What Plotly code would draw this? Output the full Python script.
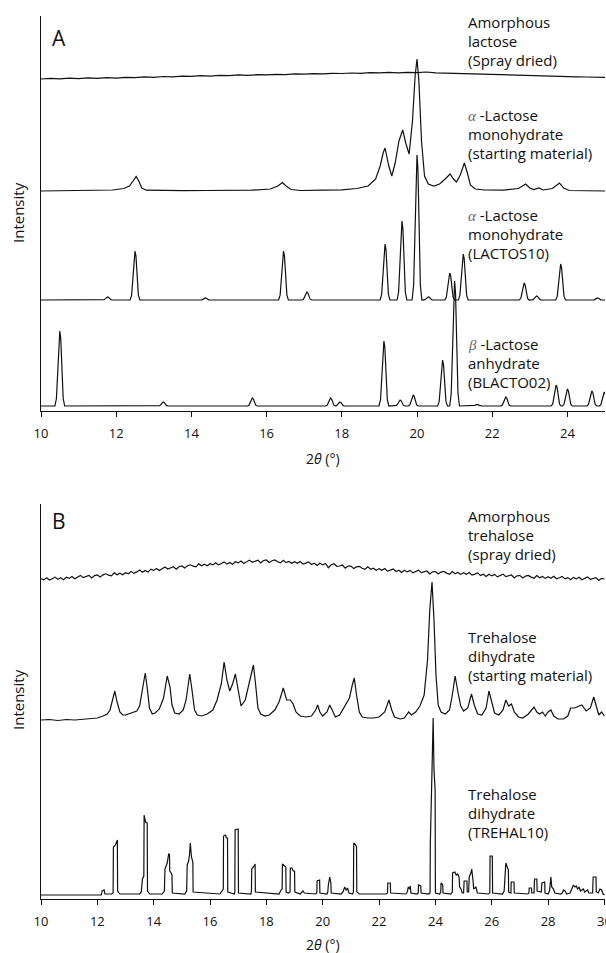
import plotly.graph_objects as go

W, H = 606, 953
FONT = "Open Sans"
INK = "#111111"

# ---------------- Panel A : lactose (2θ in degrees, intensity a.u.) ----------------
A_AMORPH_X = [10.0, 10.25, 10.5, 10.75, 11.0, 11.25, 11.5, 11.75, 12.0, 12.25, 12.5, 12.75,
              13.0, 13.25, 13.5, 13.75, 14.0, 14.25, 14.5, 14.75, 15.0, 15.25, 15.5, 15.75,
              16.0, 16.25, 16.5, 16.75, 17.0, 17.25, 17.5, 17.75, 18.0, 18.25, 18.5, 18.75,
              19.0, 19.25, 19.5, 19.75, 20.0, 20.25, 20.5, 20.75, 21.0, 21.25, 21.5, 21.75,
              22.0, 22.25, 22.5, 22.75, 23.0, 23.25, 23.5, 23.75, 24.0, 24.25, 24.5, 24.75, 25.0]
A_AMORPH_Y = [0.0, 0.6, 0.1, 0.9, 0.4, 1.1, 0.7, 1.3, 0.9, 1.6, 1.3, 2.1, 1.7, 2.5, 2.1, 2.9,
              2.6, 3.3, 2.9, 3.6, 3.4, 4.1, 3.7, 4.3, 4.1, 4.7, 4.4, 5.1, 4.8, 5.4, 5.1, 5.7,
              5.5, 6.0, 5.7, 6.3, 6.1, 6.6, 6.2, 6.7, 6.4, 7.0, 6.1, 5.8, 5.5, 5.2, 4.8, 4.5,
              4.2, 3.9, 3.6, 3.4, 3.1, 2.9, 2.7, 2.6, 2.3, 2.2, 2.0, 1.9, 1.7]

A_START_PTS = [(10.0, 0), (10.5, 0.3), (11.0, 0.2), (11.5, 0.5), (11.9, 1), (12.2, 2.5), (12.35, 5),
               (12.45, 10), (12.53, 14.5), (12.6, 10), (12.68, 3), (12.8, 0.8), (13.2, 0.5),
               (13.8, 0.3), (14.4, 0.5), (15.0, 0.4), (15.6, 0.8), (16.1, 2), (16.3, 5),
               (16.42, 8.5), (16.52, 5), (16.65, 1.5), (16.9, 0.5), (17.5, 0.8), (18.0, 1.2),
               (18.4, 2.5), (18.7, 5), (18.9, 12), (19.02, 25), (19.1, 38), (19.15, 43),
               (19.25, 25), (19.33, 15), (19.42, 28), (19.52, 50), (19.62, 61), (19.7, 48),
               (19.79, 37), (19.88, 70), (19.95, 115), (20.0, 132), (20.05, 110), (20.12, 50),
               (20.2, 15), (20.3, 7), (20.45, 5), (20.6, 7), (20.75, 12), (20.88, 17),
               (20.97, 12), (21.05, 9), (21.15, 16), (21.26, 28), (21.34, 18), (21.42, 6),
               (21.55, 2), (21.8, 1), (22.3, 0.8), (22.7, 2.5), (22.89, 7), (23.0, 3),
               (23.1, 1.5), (23.25, 3), (23.35, 1), (23.6, 2.5), (23.79, 8), (23.9, 3),
               (24.05, 0.5), (24.5, 0.3), (25.0, 0)]

A_LACTOS10_POS = [11.77, 12.5, 14.37, 16.45, 17.07, 19.15, 19.6, 20.0, 20.3, 20.87, 21.23,
                  22.85, 23.18, 23.82, 24.8]
A_LACTOS10_INT = [3, 49, 2, 49, 8, 56, 79, 145, 3, 27, 46, 17, 4, 36, 2]

A_BLACTO02_POS = [10.5, 13.25, 15.62, 17.7, 17.95, 19.12, 19.55, 19.9, 20.68, 21.0, 21.6,
                  22.36, 23.7, 24.0, 24.65, 24.98]
A_BLACTO02_INT = [75, 4, 8, 8, 4, 65, 6, 11, 46, 125, 1.5, 9, 21, 17, 15, 14]

# ---------------- Panel B : trehalose ----------------
B_AMORPH_X = [10.0, 10.1, 10.2, 10.3, 10.4, 10.5, 10.6, 10.7, 10.8, 10.9,
              11.0, 11.1, 11.2, 11.3, 11.4, 11.5, 11.6, 11.7, 11.8, 11.9,
              12.0, 12.1, 12.2, 12.3, 12.4, 12.5, 12.6, 12.7, 12.8, 12.9,
              13.0, 13.1, 13.2, 13.3, 13.4, 13.5, 13.6, 13.7, 13.8, 13.9,
              14.0, 14.1, 14.2, 14.3, 14.4, 14.5, 14.6, 14.7, 14.8, 14.9,
              15.0, 15.1, 15.2, 15.3, 15.4, 15.5, 15.6, 15.7, 15.8, 15.9,
              16.0, 16.1, 16.2, 16.3, 16.4, 16.5, 16.6, 16.7, 16.8, 16.9,
              17.0, 17.1, 17.2, 17.3, 17.4, 17.5, 17.6, 17.7, 17.8, 17.9,
              18.0, 18.1, 18.2, 18.3, 18.4, 18.5, 18.6, 18.7, 18.8, 18.9,
              19.0, 19.1, 19.2, 19.3, 19.4, 19.5, 19.6, 19.7, 19.8, 19.9,
              20.0, 20.1, 20.2, 20.3, 20.4, 20.5, 20.6, 20.7, 20.8, 20.9,
              21.0, 21.1, 21.2, 21.3, 21.4, 21.5, 21.6, 21.7, 21.8, 21.9,
              22.0, 22.1, 22.2, 22.3, 22.4, 22.5, 22.6, 22.7, 22.8, 22.9,
              23.0, 23.1, 23.2, 23.3, 23.4, 23.5, 23.6, 23.7, 23.8, 23.9,
              24.0, 24.1, 24.2, 24.3, 24.4, 24.5, 24.6, 24.7, 24.8, 24.9,
              25.0, 25.1, 25.2, 25.3, 25.4, 25.5, 25.6, 25.7, 25.8, 25.9,
              26.0, 26.1, 26.2, 26.3, 26.4, 26.5, 26.6, 26.7, 26.8, 26.9,
              27.0, 27.1, 27.2, 27.3, 27.4, 27.5, 27.6, 27.7, 27.8, 27.9,
              28.0, 28.1, 28.2, 28.3, 28.4, 28.5, 28.6, 28.7, 28.8, 28.9,
              29.0, 29.1, 29.2, 29.3, 29.4, 29.5, 29.6, 29.7, 29.8, 29.9, 30.0]
B_AMORPH_Y = [1.3, 0.1, 2.2, 0.0, 1.3, 2.9, 0.6, 2.2, 0.3, 2.9,
              1.6, 3.4, 1.2, 3.0, 4.6, 2.4, 3.2, 4.6, 2.0, 4.4,
              5.0, 2.9, 5.1, 6.2, 4.8, 4.1, 7.1, 5.2, 6.8, 5.3,
              7.3, 6.3, 8.6, 6.6, 8.1, 9.9, 7.8, 9.6, 7.9, 10.7,
              9.6, 11.5, 9.4, 11.3, 13.0, 10.9, 11.8, 13.3, 10.8, 13.3,
              14.0, 11.9, 14.1, 15.2, 13.8, 13.1, 16.1, 14.2, 15.8, 14.3,
              16.3, 15.1, 17.3, 15.1, 16.5, 18.1, 15.9, 17.5, 15.7, 18.3,
              17.1, 18.9, 16.6, 18.4, 19.9, 17.7, 18.4, 19.8, 17.1, 19.5,
              20.0, 17.5, 19.3, 20.0, 18.2, 17.1, 19.7, 17.4, 18.6, 16.7,
              18.3, 16.7, 18.5, 15.9, 16.9, 18.1, 15.5, 16.7, 14.5, 16.7,
              15.1, 16.5, 12.3, 15.2, 16.3, 13.7, 14.0, 15.0, 11.9, 13.9,
              14.0, 11.4, 13.1, 13.7, 11.8, 10.6, 13.1, 10.7, 11.8, 9.8,
              11.3, 9.7, 11.5, 8.9, 9.9, 11.1, 8.5, 9.7, 7.5, 9.7,
              8.1, 9.6, 7.1, 8.6, 9.9, 7.4, 7.9, 9.0, 6.1, 8.2,
              8.5, 6.0, 7.9, 8.6, 6.9, 5.8, 8.5, 6.2, 7.5, 5.6,
              7.3, 5.7, 7.5, 4.9, 5.9, 7.1, 4.5, 5.7, 3.5, 5.7,
              4.1, 5.6, 3.1, 4.6, 5.9, 3.4, 3.9, 5.0, 2.1, 4.2,
              4.5, 2.0, 3.9, 4.6, 2.9, 1.8, 4.5, 2.2, 3.5, 1.6,
              3.3, 1.8, 3.7, 1.2, 2.3, 3.6, 1.1, 2.4, 0.3, 2.6,
              1.1, 2.7, 0.2, 1.8, 3.1, 0.7, 1.2, 2.4, -0.5, 1.7, 1.0]

B_START_PTS = [(10.0, 0), (10.3, 0.5), (10.6, -0.5), (10.9, 0.5), (11.2, 0), (11.5, 1), (11.8, 1.5),
               (12.0, 2), (12.2, 4), (12.35, 6), (12.45, 10), (12.55, 20), (12.62, 29), (12.7, 18),
               (12.8, 8), (12.9, 5), (13.0, 5), (13.2, 7), (13.4, 9), (13.5, 14), (13.6, 30),
               (13.7, 47), (13.78, 30), (13.85, 12), (13.95, 6), (14.05, 7), (14.2, 11),
               (14.35, 22), (14.48, 44), (14.58, 33), (14.65, 15), (14.75, 7), (14.9, 6),
               (15.05, 10), (15.15, 20), (15.28, 46), (15.36, 30), (15.45, 10), (15.55, 5),
               (15.7, 4), (15.9, 6), (16.1, 10), (16.25, 20), (16.4, 36), (16.5, 58), (16.6, 40),
               (16.7, 29), (16.8, 36), (16.9, 46), (17.0, 30), (17.1, 14), (17.25, 20),
               (17.4, 38), (17.54, 55), (17.62, 35), (17.7, 12), (17.8, 6), (17.95, 4),
               (18.1, 5), (18.3, 10), (18.45, 18), (18.6, 32), (18.72, 20), (18.85, 20),
               (18.95, 16), (19.05, 8), (19.2, 4), (19.4, 3), (19.6, 4), (19.75, 10),
               (19.82, 15), (19.9, 8), (20.0, 4), (20.15, 8), (20.25, 15), (20.35, 8),
               (20.45, 3), (20.6, 5), (20.75, 12), (20.85, 16), (20.95, 22), (21.05, 35),
               (21.12, 42), (21.2, 25), (21.3, 8), (21.4, 3), (21.6, 2), (21.8, 2), (22.0, 3),
               (22.2, 8), (22.35, 20), (22.45, 10), (22.55, 3), (22.75, 1), (22.9, 2),
               (23.05, 8), (23.15, 5), (23.3, 8), (23.45, 14), (23.6, 25), (23.72, 60),
               (23.8, 110), (23.88, 138), (23.95, 100), (24.02, 45), (24.1, 15), (24.2, 8),
               (24.35, 6), (24.5, 10), (24.6, 25), (24.7, 44), (24.8, 28), (24.9, 14),
               (25.0, 9), (25.15, 12), (25.28, 26), (25.38, 15), (25.5, 6), (25.65, 5),
               (25.8, 12), (25.9, 29), (26.0, 18), (26.1, 7), (26.25, 5), (26.4, 10),
               (26.5, 20), (26.6, 14), (26.7, 16), (26.8, 8), (26.95, 3), (27.1, 2),
               (27.3, 6), (27.5, 13), (27.6, 8), (27.7, 6), (27.8, 8), (27.9, 4), (28.0, 8),
               (28.1, 10), (28.2, 4), (28.35, 1), (28.55, 1), (28.7, 4), (28.8, 12),
               (28.95, 12), (29.1, 14), (29.2, 15), (29.35, 9), (29.5, 12), (29.62, 23),
               (29.72, 12), (29.8, 5), (29.9, 8), (30.0, 4)]

B_TREHAL10_PTS = [(10.0, 0), (12.14, 0), (12.17, 4), (12.24, 5), (12.27, 1), (12.5, 1), (12.56, 2),
                  (12.57, 48), (12.64, 50), (12.69, 55), (12.71, 55), (12.72, 4), (12.8, 1),
                  (13.5, 1), (13.56, 3), (13.6, 16), (13.65, 19), (13.66, 80), (13.71, 73),
                  (13.77, 72), (13.78, 4), (13.86, 1), (14.3, 1), (14.38, 4), (14.4, 26),
                  (14.48, 32), (14.53, 41), (14.56, 41), (14.57, 24), (14.62, 22), (14.65, 20),
                  (14.66, 2), (15.1, 1), (15.17, 4), (15.19, 30), (15.24, 34), (15.27, 40),
                  (15.3, 52), (15.34, 38), (15.39, 33), (15.4, 3), (16.35, 1), (16.42, 4),
                  (16.47, 6), (16.48, 59), (16.55, 60), (16.58, 57), (16.62, 57), (16.63, 3),
                  (16.86, 1), (16.88, 3), (16.89, 65), (16.98, 66), (17.0, 66), (17.01, 2),
                  (17.45, 1), (17.47, 4), (17.48, 26), (17.54, 28), (17.58, 31), (17.6, 31),
                  (17.61, 3), (18.45, 1), (18.52, 5), (18.56, 6), (18.57, 31), (18.63, 29),
                  (18.69, 28), (18.7, 3), (18.78, 2), (18.84, 3), (18.85, 27), (18.91, 27),
                  (18.95, 24), (19.0, 24), (19.01, 3), (19.2, 1), (19.25, 3), (19.3, 4),
                  (19.35, 2), (19.75, 1), (19.79, 2), (19.8, 14), (19.89, 15), (19.9, 2),
                  (20.15, 1), (20.18, 3), (20.2, 10), (20.25, 18), (20.29, 12), (20.3, 2),
                  (20.65, 1), (20.72, 3), (20.78, 8), (20.83, 5), (20.88, 7), (20.93, 2),
                  (21.06, 1), (21.09, 3), (21.1, 52), (21.17, 50), (21.2, 48), (21.21, 3),
                  (21.3, 1), (22.25, 1), (22.3, 2), (22.31, 12), (22.4, 12), (22.41, 2),
                  (22.95, 1), (23.0, 3), (23.04, 8), (23.08, 6), (23.11, 9), (23.13, 2),
                  (23.35, 1), (23.39, 2), (23.4, 10), (23.48, 9), (23.49, 2), (23.76, 1),
                  (23.81, 2), (23.82, 52), (23.88, 125), (23.92, 177), (23.95, 125),
                  (23.99, 105), (24.0, 2), (24.15, 1), (24.19, 3), (24.2, 12), (24.26, 10),
                  (24.27, 2), (24.55, 1), (24.6, 3), (24.61, 22), (24.69, 23), (24.74, 20),
                  (24.79, 21), (24.84, 18), (24.86, 8), (24.91, 6), (24.95, 2), (25.0, 2),
                  (25.02, 14), (25.12, 14), (25.13, 3), (25.18, 3), (25.2, 18), (25.26, 22),
                  (25.29, 26), (25.33, 16), (25.36, 6), (25.44, 8), (25.49, 2), (25.88, 1),
                  (25.93, 2), (25.94, 39), (26.02, 39), (26.03, 2), (26.38, 1), (26.44, 4),
                  (26.48, 20), (26.5, 32), (26.55, 28), (26.59, 25), (26.6, 3), (26.68, 2),
                  (26.69, 13), (26.79, 13), (26.8, 2), (27.28, 1), (27.32, 2), (27.33, 7),
                  (27.41, 7), (27.42, 2), (27.5, 2), (27.52, 16), (27.6, 16), (27.61, 4),
                  (27.76, 3), (27.78, 12), (27.88, 13), (27.89, 2), (28.0, 1), (28.05, 4),
                  (28.1, 18), (28.13, 8), (28.19, 6), (28.24, 2), (28.45, 1), (28.5, 2),
                  (28.55, 5), (28.6, 4), (28.66, 1), (28.78, 2), (28.84, 6), (28.9, 10),
                  (28.95, 8), (29.0, 9), (29.05, 6), (29.1, 8), (29.15, 4), (29.25, 6),
                  (29.3, 3), (29.4, 5), (29.45, 2), (29.58, 2), (29.6, 18), (29.7, 18),
                  (29.71, 3), (29.78, 2), (29.84, 6), (29.9, 5), (29.95, 1), (30.0, 0)]

A_TICKS = [10, 12, 14, 16, 18, 20, 22, 24]
B_TICKS = [10, 12, 14, 16, 18, 20, 22, 24, 26, 28, 30]

# ---------------- styling / stacking ----------------
# peak profile used to draw each calculated reflection (shape only)
PROFILE_DX = [-0.13, -0.09, -0.055, -0.025, 0.0, 0.025, 0.055, 0.09, 0.13]
PROFILE_FR = [0.0, 0.1, 0.45, 0.9, 1.0, 0.9, 0.45, 0.1, 0.0]

OFFS_A = {"amorph": 332, "start": 220, "lactos": 111, "blacto": 5}
OFFS_B = {"amorph": 319, "start": 179, "trehal": 4}


def stick_pattern(pos, inten, xmin, xmax):
    xs, ys = [xmin], [0.0]
    for c, h in sorted(zip(pos, inten)):
        for dx, fr in zip(PROFILE_DX, PROFILE_FR):
            xs.append(c + dx)
            ys.append(h * fr)
    xs.append(xmax)
    ys.append(0.0)
    return xs, ys


def unzip(pts):
    return [p[0] for p in pts], [p[1] for p in pts]


def shifted(ys, off):
    return [v + off for v in ys]


fig = go.Figure()
line = dict(color=INK, width=1.2)


def add(x, y, xa, ya):
    fig.add_trace(go.Scatter(x=x, y=y, mode="lines", line=line, xaxis=xa, yaxis=ya,
                             hoverinfo="skip", showlegend=False))


# Panel A
add(A_AMORPH_X, shifted(A_AMORPH_Y, OFFS_A["amorph"]), "x", "y")
sx, sy = unzip(A_START_PTS)
add(sx, shifted(sy, OFFS_A["start"]), "x", "y")
lx, ly = stick_pattern(A_LACTOS10_POS, A_LACTOS10_INT, 10.0, 25.0)
add(lx, shifted(ly, OFFS_A["lactos"]), "x", "y")
bx, by = stick_pattern(A_BLACTO02_POS, A_BLACTO02_INT, 10.0, 25.0)
add(bx, shifted(by, OFFS_A["blacto"]), "x", "y")

# Panel B
add(B_AMORPH_X, shifted(B_AMORPH_Y, OFFS_B["amorph"]), "x2", "y2")
tx, ty = unzip(B_START_PTS)
add(tx, shifted(ty, OFFS_B["start"]), "x2", "y2")
rx, ry = unzip(B_TREHAL10_PTS)
add(rx, shifted(ry, OFFS_B["trehal"]), "x2", "y2")

# ---------------- layout ----------------
X0, X1 = 41, 605
A_TOP, A_BOT = 16, 411
B_TOP, B_BOT = 504, 899


def xaxis(rng, ticks, anchor):
    return dict(domain=[X0 / W, X1 / W], range=rng, anchor=anchor, tickvals=ticks,
                ticktext=[str(t) for t in ticks], ticks="outside", ticklen=5, tickwidth=1,
                tickcolor=INK, showline=True, linecolor=INK, linewidth=1, showgrid=False,
                zeroline=False, tickfont=dict(family=FONT, size=13, color=INK),
                ticklabelstandoff=5, ticklabeloverflow="allow", automargin=False,
                fixedrange=True)


def yaxis(top, bot, anchor):
    return dict(domain=[1 - bot / H, 1 - top / H], range=[0, 395], anchor=anchor,
                showline=True, linecolor=INK, linewidth=1, showgrid=False, zeroline=False,
                ticks="", showticklabels=False, automargin=False, fixedrange=True)


def ann(text, x, y, size, xanchor="left", angle=0):
    return dict(text=text, x=x / W, y=1 - y / H, xref="paper", yref="paper",
                xanchor=xanchor, yanchor="middle", showarrow=False, textangle=angle,
                font=dict(family=FONT, size=size, color=INK))


GREEK = '<span style="color:#666;font-family:\'Liberation Serif\'"><i>{}</i></span> -Lactose'
ALPHA = GREEK.format("α")
BETA = GREEK.format("β")
LBL_X = 466
LABELS = [
    (["Amorphous", "lactose", "(Spray dried)"], 22),
    ([ALPHA, "monohydrate", "(starting material)"], 115),
    ([ALPHA, "monohydrate", "(LACTOS10)"], 215),
    ([BETA, "anhydrate", "(BLACTO02)"], 344),
    (["Amorphous", "trehalose", "(spray dried)"], 516),
    (["Trehalose", "dihydrate", "(starting material)"], 637),
    (["Trehalose", "dihydrate", "(TREHAL10)"], 794),
]
annotations = []
for lines, y0 in LABELS:
    for i, t in enumerate(lines):
        annotations.append(ann(t, LBL_X, y0 + 19 * i, 15))

annotations += [
    ann("A", 50, 38, 21),
    ann("B", 50, 521, 21),
    ann("Intensity", 18, 213, 15, xanchor="center", angle=-90),
    ann("Intensity", 18, 700, 15, xanchor="center", angle=-90),
    ann("2<i>θ</i> (°)", 323, 458, 14, xanchor="center"),
    ann("2<i>θ</i> (°)", 323, 944, 14, xanchor="center"),
]

fig.update_layout(
    width=W, height=H, margin=dict(l=0, r=0, t=0, b=0),
    paper_bgcolor="white", plot_bgcolor="white",
    xaxis=xaxis([10, 25], A_TICKS, "y"),
    yaxis=yaxis(A_TOP, A_BOT, "x"),
    xaxis2=xaxis([10, 30.02], B_TICKS, "y2"),
    yaxis2=yaxis(B_TOP, B_BOT, "x2"),
    annotations=annotations,
    showlegend=False,
)

fig.write_html("out.html", config={"displayModeBar": False})
